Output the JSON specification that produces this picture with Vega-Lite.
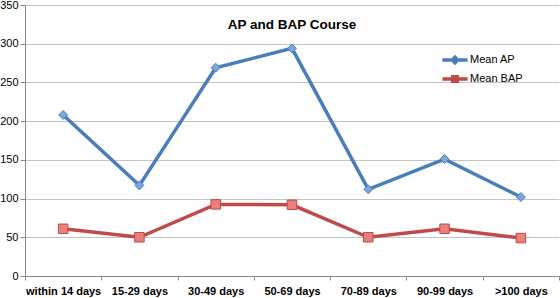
{
  "$schema": "https://vega.github.io/schema/vega-lite/v6.json",
  "width": 534,
  "height": 271,
  "autosize": "none",
  "padding": {"left": 25, "top": 5, "right": 1, "bottom": 22},
  "background": "white",
  "title": {
    "text": "AP and BAP Course",
    "anchor": "middle",
    "font": "Liberation Sans",
    "fontSize": 13.5,
    "fontWeight": "bold",
    "color": "#000000",
    "dy": 36
  },
  "data": {
    "values": [
      {"period": "within 14 days", "series": "Mean AP", "value": 208},
      {"period": "15-29 days", "series": "Mean AP", "value": 117},
      {"period": "30-49 days", "series": "Mean AP", "value": 269},
      {"period": "50-69 days", "series": "Mean AP", "value": 294},
      {"period": "70-89 days", "series": "Mean AP", "value": 112},
      {"period": "90-99 days", "series": "Mean AP", "value": 151},
      {"period": ">100 days", "series": "Mean AP", "value": 102},
      {"period": "within 14 days", "series": "Mean BAP", "value": 61},
      {"period": "15-29 days", "series": "Mean BAP", "value": 50},
      {"period": "30-49 days", "series": "Mean BAP", "value": 92.5},
      {"period": "50-69 days", "series": "Mean BAP", "value": 92},
      {"period": "70-89 days", "series": "Mean BAP", "value": 50},
      {"period": "90-99 days", "series": "Mean BAP", "value": 61},
      {"period": ">100 days", "series": "Mean BAP", "value": 49}
    ]
  },
  "encoding": {
    "x": {
      "field": "period",
      "type": "nominal",
      "sort": ["within 14 days", "15-29 days", "30-49 days", "50-69 days", "70-89 days", "90-99 days", ">100 days"],
      "scale": {"type": "band", "paddingInner": 0, "paddingOuter": 0},
      "axis": {
        "title": null,
        "labelAngle": 0,
        "labelFont": "Liberation Sans",
        "labelFontSize": 11,
        "labelFontWeight": "bold",
        "labelColor": "#000000",
        "labelPadding": 5,
        "tickBand": "extent",
        "tickSize": 4,
        "tickColor": "#888888",
        "domainColor": "#888888",
        "grid": false
      }
    },
    "y": {
      "field": "value",
      "type": "quantitative",
      "scale": {"domain": [0, 350], "nice": false},
      "axis": {
        "title": null,
        "values": [0, 50, 100, 150, 200, 250, 300, 350],
        "labelFont": "Liberation Sans",
        "labelFontSize": 11,
        "labelColor": "#000000",
        "labelPadding": 2,
        "tickSize": 5,
        "tickColor": "#888888",
        "domainColor": "#888888",
        "gridColor": "#c4c4c4",
        "gridWidth": 1
      }
    }
  },
  "layer": [
    {
      "mark": {"type": "line", "strokeWidth": 3.5},
      "encoding": {
        "color": {
          "field": "series",
          "type": "nominal",
          "scale": {"domain": ["Mean AP", "Mean BAP"], "range": ["#4a7ebb", "#be4b48"]},
          "legend": {
            "title": null,
            "orient": "none",
            "legendX": 421,
            "legendY": 46,
            "symbolType": "M-1.8,0H1.8",
            "symbolSize": 196,
            "symbolStrokeWidth": 3.5,
            "labelFont": "Liberation Sans",
            "labelFontSize": 11,
            "labelColor": "#000000",
            "rowPadding": -6,
            "labelOffset": 6,
            "encode": {
              "symbols": {
                "update": {
                  "shape": {"signal": "datum.value === 'Mean AP' ? 'M-1.8,0H1.8M0,-0.38L0.38,0L0,0.38L-0.38,0Z' : 'M-1.8,0H1.8M-0.32,-0.32H0.32V0.32H-0.32Z'"}
                }
              }
            }
          }
        }
      }
    },
    {
      "transform": [{"filter": "datum.series === 'Mean AP'"}],
      "mark": {"type": "point", "shape": "diamond", "filled": true, "fill": "#7fa6dc", "stroke": "#4a7ebb", "strokeWidth": 1, "opacity": 1, "size": 80}
    },
    {
      "transform": [{"filter": "datum.series === 'Mean BAP'"}],
      "mark": {"type": "point", "shape": "square", "filled": true, "fill": "#e8807d", "stroke": "#be4b48", "strokeWidth": 1, "opacity": 1, "size": 90}
    }
  ],
  "config": {
    "view": {"stroke": null}
  }
}
